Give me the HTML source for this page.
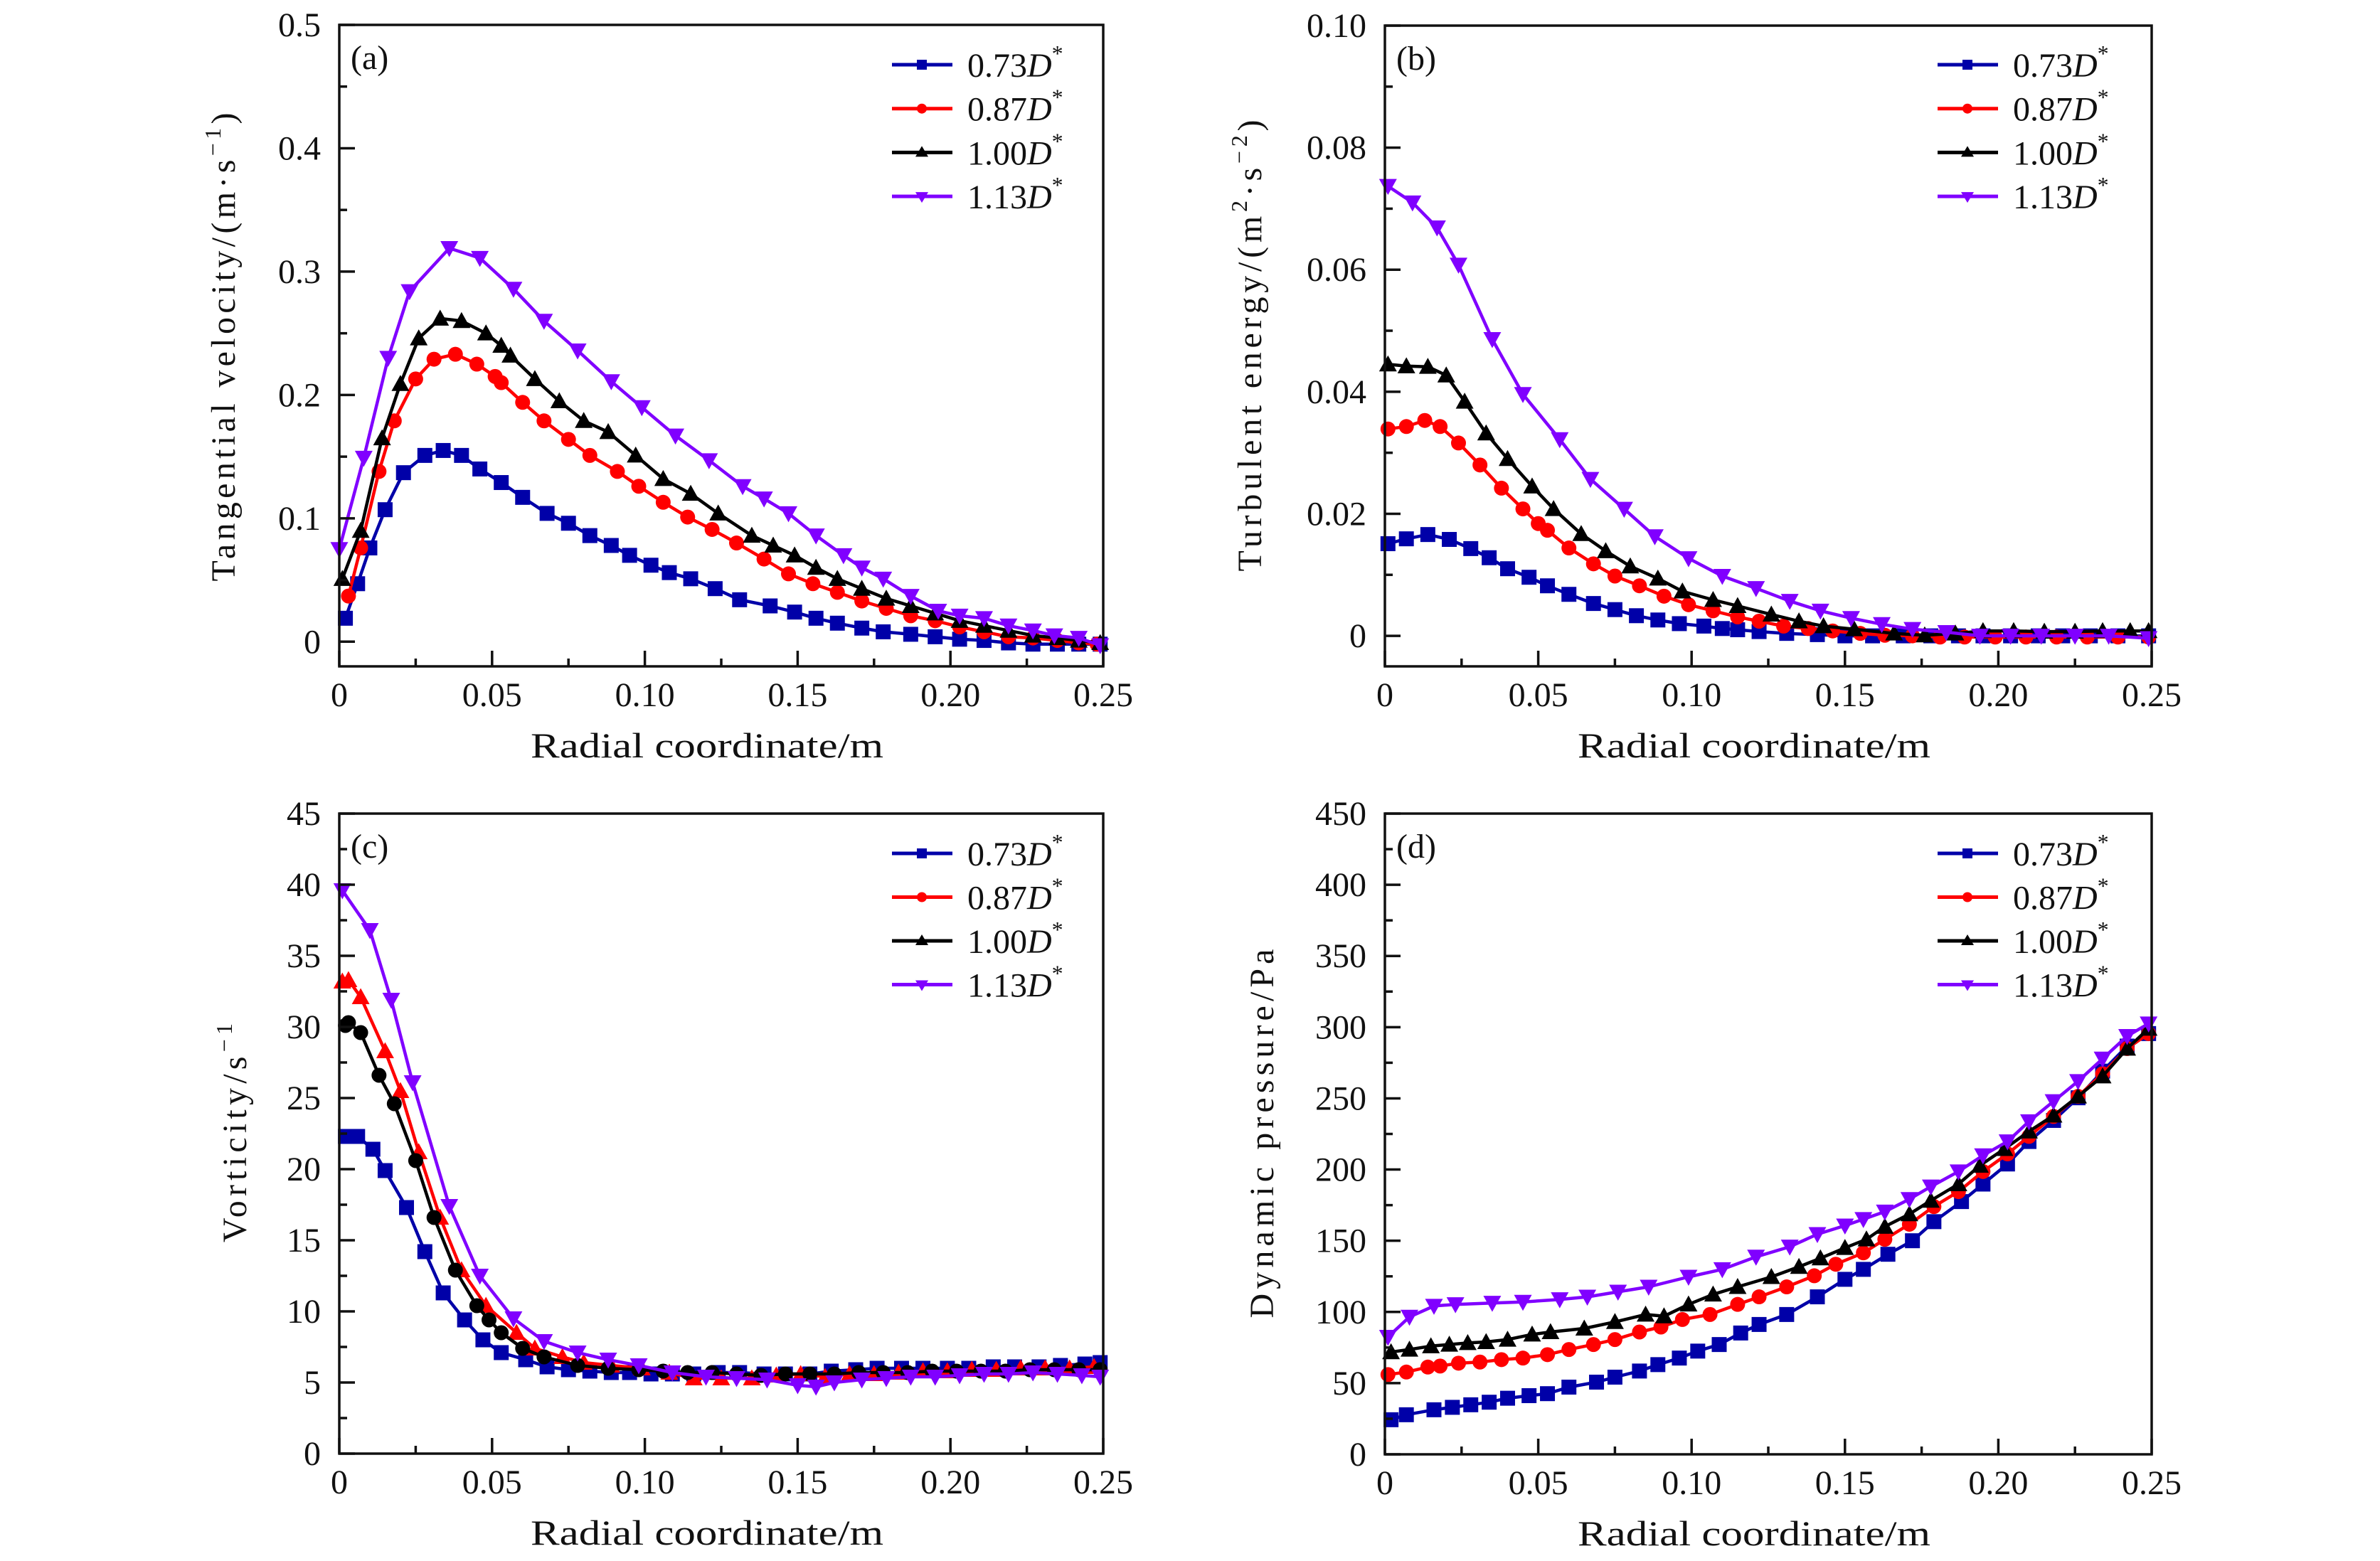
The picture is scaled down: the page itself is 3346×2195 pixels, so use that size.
<!DOCTYPE html>
<html><head><meta charset="utf-8">
<style>
html,body{margin:0;padding:0;background:#fff;}
svg{display:block;font-family:"Liberation Serif",serif;}
</style></head>
<body>
<svg id="fig" width="3346" height="2195" viewBox="0 0 3346 2195" xmlns="http://www.w3.org/2000/svg">
<rect width="3346" height="2195" fill="#fff"/>
</svg>
<script>
// ---------- shared axis data ----------
const xTickValues = [0, 0.05, 0.10, 0.15, 0.20, 0.25];
const xTickLabels = ["0", "0.05", "0.10", "0.15", "0.20", "0.25"];
const seriesNames = ["0.73", "0.87", "1.00", "1.13"];

// ---------- panel (a) tangential velocity ----------
const aTicks = [0, 0.1, 0.2, 0.3, 0.4, 0.5];
const aTickLabels = ["0", "0.1", "0.2", "0.3", "0.4", "0.5"];
const aX073 = [.002,.006,.010,.015,.021,.028,.034,.040,.046,.053,.060,.068,.075,.082,.089,.095,.102,.108,.115,.123,.131,.141,.149,.156,.163,.171,.178,.187,.195,.203,.211,.219,.227,.235,.242,.249];
const aY073 = [.019,.047,.076,.107,.137,.151,.155,.151,.140,.129,.117,.104,.096,.086,.078,.070,.062,.056,.051,.043,.034,.029,.024,.019,.015,.011,.008,.006,.004,.002,.001,-.001,-.002,-.002,-.002,-.002];
const aX087 = [.003,.007,.013,.018,.025,.031,.038,.045,.051,.053,.060,.067,.075,.082,.091,.098,.106,.114,.122,.130,.139,.147,.155,.163,.171,.179,.187,.195,.203,.211,.219,.227,.235,.242,.248];
const aY087 = [.037,.076,.138,.179,.213,.229,.233,.225,.215,.210,.194,.179,.164,.151,.138,.126,.113,.101,.091,.080,.067,.055,.047,.040,.033,.027,.021,.017,.012,.008,.004,.003,.001,-.001,-.002];
const aX100 = [.001,.007,.014,.020,.026,.033,.040,.048,.053,.056,.064,.072,.080,.088,.097,.106,.115,.124,.135,.142,.149,.156,.163,.171,.179,.187,.195,.203,.211,.219,.227,.235,.242,.249];
const aY100 = [.051,.090,.165,.209,.246,.262,.260,.250,.240,.232,.213,.195,.179,.170,.151,.132,.120,.104,.086,.078,.070,.060,.051,.043,.035,.029,.023,.017,.013,.009,.005,.003,.001,-.001];
const aX113 = [.000,.008,.016,.023,.036,.046,.057,.067,.078,.089,.099,.110,.121,.132,.139,.147,.156,.165,.171,.178,.187,.196,.203,.211,.219,.227,.234,.242,.249];
const aY113 = [.075,.149,.230,.284,.319,.311,.286,.260,.236,.211,.190,.167,.147,.126,.116,.104,.086,.070,.060,.051,.037,.025,.021,.019,.013,.009,.005,.003,-.003];

// ---------- panel (b) turbulent energy ----------
const bTicks = [0, 0.02, 0.04, 0.06, 0.08, 0.10];
const bTickLabels = ["0", "0.02", "0.04", "0.06", "0.08", "0.10"];
const bX073 = [.001,.007,.014,.021,.028,.034,.040,.047,.053,.060,.068,.075,.082,.089,.096,.104,.110,.115,.122,.131,.141,.150,.159,.169,.178,.187,.195,.204,.213,.221,.230,.239,.249];
const bY073 = [.0151,.0159,.0166,.0158,.0143,.0128,.0110,.0096,.0082,.0068,.0053,.0043,.0033,.0026,.0020,.0016,.0012,.0010,.0007,.0004,.0002,0,0,0,0,0,0,0,0,0,0,0,0];
const bX087 = [.001,.007,.013,.018,.024,.031,.038,.045,.050,.053,.060,.068,.075,.083,.091,.099,.107,.115,.122,.130,.138,.146,.155,.163,.172,.181,.189,.199,.209,.219,.229,.239,.249];
const bY087 = [.0339,.0343,.0353,.0343,.0316,.0280,.0242,.0208,.0184,.0173,.0144,.0118,.0098,.0082,.0065,.0051,.0041,.0031,.0024,.0016,.0012,.0008,.0004,.0001,0,-.0002,-.0002,-.0002,-.0002,-.0002,-.0002,-.0002,-.0002];
const bX100 = [.001,.007,.014,.020,.026,.033,.040,.048,.055,.064,.072,.080,.089,.097,.107,.115,.126,.135,.143,.153,.166,.176,.186,.195,.205,.215,.225,.234,.243,.249];
const bY100 = [.0445,.0442,.0441,.0427,.0384,.0332,.0290,.0245,.0208,.0167,.0139,.0114,.0094,.0073,.0059,.0049,.0035,.0024,.0016,.0011,.0004,.0001,.0004,.0008,.0008,.0007,.0007,.0008,.0008,.0008];
const bX113 = [.001,.009,.017,.024,.035,.045,.057,.067,.078,.088,.099,.110,.121,.132,.142,.152,.162,.172,.183,.194,.204,.214,.225,.236,.249];
const bY113 = [.0737,.0710,.0669,.0608,.0486,.0396,.0322,.0257,.0208,.0163,.0127,.0098,.0078,.0057,.0041,.0029,.0019,.0011,.0006,0,0,0,0,0,-.0004];

// ---------- panel (c) vorticity ----------
const cTicks = [0, 5, 10, 15, 20, 25, 30, 35, 40, 45];
const cTickLabels = ["0", "5", "10", "15", "20", "25", "30", "35", "40", "45"];
const cX073 = [.002,.006,.011,.015,.022,.028,.034,.041,.047,.053,.061,.068,.075,.082,.089,.095,.102,.109,.116,.124,.131,.139,.146,.154,.161,.169,.176,.184,.191,.199,.206,.214,.221,.229,.236,.244,.249];
const cY073 = [22.3,22.3,21.4,19.9,17.3,14.2,11.3,9.4,8.0,7.1,6.6,6.1,5.9,5.8,5.7,5.7,5.6,5.6,5.6,5.7,5.7,5.6,5.6,5.6,5.8,5.9,6.0,6.0,6.0,6.0,6.0,6.1,6.1,6.1,6.2,6.3,6.4];
const cX087 = [.001,.003,.007,.015,.020,.026,.033,.040,.048,.058,.064,.073,.080,.089,.099,.108,.116,.125,.135,.143,.151,.159,.167,.175,.183,.191,.199,.207,.215,.223,.231,.239,.247];
const cY087 = [33.2,33.3,32.1,28.3,25.5,21.2,16.6,12.9,10.4,8.5,7.4,6.8,6.4,6.2,6.0,5.7,5.3,5.3,5.3,5.5,5.6,5.4,5.6,5.6,5.7,5.8,5.8,5.9,5.9,6.0,6.0,6.0,6.1];
const cX100 = [.002,.003,.007,.013,.018,.025,.031,.038,.045,.049,.053,.060,.067,.078,.088,.098,.106,.114,.122,.130,.138,.146,.154,.162,.170,.178,.186,.194,.202,.210,.218,.226,.234,.242,.249];
const cY100 = [30.1,30.3,29.6,26.6,24.6,20.6,16.6,12.9,10.4,9.4,8.5,7.4,6.8,6.2,6.0,5.9,5.8,5.7,5.7,5.6,5.5,5.6,5.6,5.6,5.7,5.7,5.7,5.8,5.8,5.8,5.8,5.9,5.9,5.9,5.9];
const cX113 = [.001,.010,.017,.024,.036,.046,.057,.067,.078,.088,.098,.109,.120,.130,.140,.150,.156,.162,.171,.179,.187,.195,.203,.211,.219,.227,.235,.243,.249];
const cY113 = [39.6,36.8,31.9,26.1,17.4,12.5,9.5,7.9,7.1,6.6,6.2,5.7,5.4,5.3,5.2,4.8,4.7,5.0,5.2,5.3,5.4,5.4,5.5,5.6,5.6,5.7,5.6,5.5,5.4];

// ---------- panel (d) dynamic pressure ----------
const dTicks = [0, 50, 100, 150, 200, 250, 300, 350, 400, 450];
const dTickLabels = ["0", "50", "100", "150", "200", "250", "300", "350", "400", "450"];
const dX073 = [.002,.007,.016,.022,.028,.034,.040,.047,.053,.060,.069,.075,.083,.089,.096,.102,.109,.116,.122,.131,.141,.150,.156,.164,.172,.179,.188,.195,.203,.210,.218,.226,.234,.242,.249];
const dY073 = [24.3,27.8,31.3,33,34.8,36.6,39.4,41.2,42.6,47.2,50.7,54.2,58.5,63,67.6,72.5,77.1,85.2,91.2,98.2,110.6,122.9,129.9,140.5,150,163.4,177.5,189.8,203.9,219.7,234.5,250.4,269.1,286.7,295.5];
const dX087 = [.001,.007,.014,.018,.024,.031,.038,.045,.053,.060,.068,.075,.083,.090,.097,.106,.115,.122,.131,.140,.147,.156,.163,.171,.179,.187,.195,.203,.210,.218,.226,.234,.242,.249];
const dY087 = [56,57.8,61.3,62,64,64.8,66.5,67.6,70,73.6,77.1,80.6,85.9,89.4,94.7,98.2,105.3,110.6,117.6,125.4,133.5,141.5,151,161.6,174,184.5,198.6,211,223.3,237.3,251.4,267.3,285,295.5];
const dX100 = [.002,.008,.015,.021,.027,.033,.040,.048,.054,.065,.075,.085,.091,.099,.107,.115,.126,.135,.142,.150,.157,.163,.171,.178,.187,.194,.202,.210,.218,.226,.234,.242,.249];
const dY100 = [71.8,73.6,76,77.1,78.2,78.9,80.6,84.2,85.9,88.4,93,98.2,97,105.3,112.3,117.6,124.6,131.7,137.7,145,151,159.9,168.7,178.2,189.8,202.8,214.5,226.8,238,251.4,265.5,285,299];
const dX113 = [.001,.008,.016,.023,.035,.045,.057,.066,.076,.086,.099,.110,.121,.132,.141,.150,.156,.163,.171,.178,.187,.195,.203,.210,.218,.226,.234,.242,.249];
const dY113 = [82.4,96.5,104.2,105.3,106.3,107,108.8,110.6,114.1,117.6,124.6,129.9,138.7,145.8,154.6,160.6,165.1,170.4,179.2,188,198.6,209.9,219.7,233.8,247.9,262,277.8,293.7,302.5];

const NS = "http://www.w3.org/2000/svg";
const svg = document.getElementById("fig");
const COLORS = ["#0000a8", "#ff0000", "#000000", "#8000ff"];

function mk(tag, attrs, parent) {
  const e = document.createElementNS(NS, tag);
  for (const k in attrs) e.setAttribute(k, attrs[k]);
  parent.appendChild(e);
  return e;
}

function marker(g, shape, cx, cy, color) {
  let m;
  if (shape === "square") {
    m = mk("rect", {x: cx - 10.5, y: cy - 10.5, width: 21, height: 21, fill: color}, g);
  } else if (shape === "circle") {
    m = mk("circle", {cx: cx, cy: cy, r: 10.5, fill: color}, g);
  } else if (shape === "up") {
    m = mk("polygon", {points: `${cx},${cy - 12.5} ${cx - 12.5},${cy + 10} ${cx + 12.5},${cy + 10}`, fill: color}, g);
  } else {
    m = mk("polygon", {points: `${cx},${cy + 12.5} ${cx - 12.5},${cy - 10} ${cx + 12.5},${cy - 10}`, fill: color}, g);
  }
  
  
  return m;
}

function drawPanel(p) {
  const g = mk("g", {}, svg);
  
  
  const xs = v => p.L + (v - 0) / 0.25 * (p.R - p.L);
  const ys = v => p.B - (v - p.ymin) / (p.ymax - p.ymin) * (p.B - p.T);

  p.series.forEach((s, i) => {
    const sg = mk("g", {}, g);
    
    
    const pts = s.x.map((xv, j) => xs(xv).toFixed(1) + "," + ys(s.y[j]).toFixed(1)).join(" ");
    const line = mk("polyline", {points: pts, fill: "none", stroke: COLORS[i], "stroke-width": 4.5, "stroke-linejoin": "round"}, sg);
    
    
    s.x.forEach((xv, j) => marker(sg, s.shape, xs(xv), ys(s.y[j]), COLORS[i]));
  });

  const fr = mk("rect", {x: p.L, y: p.T, width: p.R - p.L, height: p.B - p.T, fill: "none", stroke: "#111", "stroke-width": 3.5}, g);
  
  

  xTickValues.forEach((v, i) => {
    const x = xs(v);
    const t = mk("line", {x1: x, x2: x, y1: p.B, y2: p.B - 22, stroke: "#111", "stroke-width": 3.5}, g);
    
    
    const tx = mk("text", {x: x, y: p.B + 56, "font-size": 48, "text-anchor": "middle", fill: "#111"}, g);
    tx.textContent = xTickLabels[i];
    
    
    if (i < xTickValues.length - 1) {
      const xm = xs((v + xTickValues[i + 1]) / 2);
      const tm = mk("line", {x1: xm, x2: xm, y1: p.B, y2: p.B - 11, stroke: "#111", "stroke-width": 3.5}, g);
      
      
    }
  });
  p.ticks.forEach((v, i) => {
    const y = ys(v);
    const t = mk("line", {x1: p.L, x2: p.L + 22, y1: y, y2: y, stroke: "#111", "stroke-width": 3.5}, g);
    
    
    const tx = mk("text", {x: p.L - 26, y: y + 16, "font-size": 48, "text-anchor": "end", fill: "#111"}, g);
    tx.textContent = p.tickLabels[i];
    
    
    if (i < p.ticks.length - 1) {
      const ym = ys((v + p.ticks[i + 1]) / 2);
      const tm = mk("line", {x1: p.L, x2: p.L + 11, y1: ym, y2: ym, stroke: "#111", "stroke-width": 3.5}, g);
      
      
    }
  });

  const xt = mk("text", {x: (p.L + p.R) / 2 - 20, y: p.B + 128, "font-size": 50, "text-anchor": "middle", fill: "#111", textLength: 496, lengthAdjust: "spacingAndGlyphs"}, g);
  xt.textContent = "Radial coordinate/m";
  
  

  const yt = mk("text", {x: 0, y: 0, "font-size": 48, "text-anchor": "middle", fill: "#111", transform: `translate(${p.ytx},${p.yty}) rotate(-90)`, textLength: p.ytLen, lengthAdjust: "spacing"}, g);
  yt.innerHTML = p.ytitle;
  
  

  const pl = mk("text", {x: p.L + 16, y: p.T + 62, "font-size": 48, fill: "#111"}, g);
  pl.textContent = "(" + p.id + ")";
  
  

  const lg = mk("g", {}, g);
  
  
  const shapes = ["square", "circle", "up", "down"];
  seriesNames.forEach((n, i) => {
    const ry = p.legY + i * p.legDy;
    const eg = mk("g", {}, lg);
    
    
    const ll = mk("line", {x1: p.legX, x2: p.legX + 85, y1: ry, y2: ry, stroke: COLORS[i], "stroke-width": 5}, eg);
    
    
    const sq = shapes[i];
    const lx = p.legX + 42;
    let m;
    if (sq === "square") m = mk("rect", {x: lx - 7, y: ry - 7, width: 14, height: 14, fill: COLORS[i]}, eg);
    else if (sq === "circle") m = mk("circle", {cx: lx, cy: ry, r: 7, fill: COLORS[i]}, eg);
    else if (sq === "up") m = mk("polygon", {points: `${lx},${ry - 9} ${lx - 9},${ry + 6} ${lx + 9},${ry + 6}`, fill: COLORS[i]}, eg);
    else m = mk("polygon", {points: `${lx},${ry + 9} ${lx - 9},${ry - 6} ${lx + 9},${ry - 6}`, fill: COLORS[i]}, eg);
    
    
    const tx = mk("text", {x: p.legX + 106, y: ry + 17, "font-size": 48, fill: "#111"}, eg);
    tx.innerHTML = n + '<tspan font-style="italic">D</tspan><tspan font-size="32" dy="-22">*</tspan>';
    
    
  });
}

drawPanel({id: "a", L: 477, R: 1551, T: 35, B: 937, ymin: -0.02, ymax: 0.5,
  ticks: aTicks, tickLabels: aTickLabels,
  ytitle: 'Tangential velocity/(m·s<tspan font-size="32" dy="-20">−1</tspan><tspan dy="20">)</tspan>',
  ytx: 330, yty: 488, ytLen: 659, legX: 1254, legY: 91, legDy: 61.7,
  series: [{x: aX073, y: aY073, shape: "square"}, {x: aX087, y: aY087, shape: "circle"}, {x: aX100, y: aY100, shape: "up"}, {x: aX113, y: aY113, shape: "down"}]});

drawPanel({id: "b", L: 1947, R: 3025, T: 36, B: 937, ymin: -0.005, ymax: 0.10,
  ticks: bTicks, tickLabels: bTickLabels,
  ytitle: 'Turbulent energy/(m<tspan font-size="32" dy="-20">2</tspan><tspan dy="20">·s</tspan><tspan font-size="32" dy="-20">−2</tspan><tspan dy="20">)</tspan>',
  ytx: 1773, yty: 486, ytLen: 635, legX: 2724, legY: 91, legDy: 61.7,
  series: [{x: bX073, y: bY073, shape: "square"}, {x: bX087, y: bY087, shape: "circle"}, {x: bX100, y: bY100, shape: "up"}, {x: bX113, y: bY113, shape: "down"}]});

drawPanel({id: "c", L: 477, R: 1551, T: 1144, B: 2044, ymin: 0, ymax: 45,
  ticks: cTicks, tickLabels: cTickLabels,
  ytitle: 'Vorticity/s<tspan font-size="32" dy="-20">−1</tspan>',
  ytx: 346, yty: 1593, ytLen: 308, legX: 1254, legY: 1200, legDy: 61.5,
  series: [{x: cX073, y: cY073, shape: "square"}, {x: cX087, y: cY087, shape: "up"}, {x: cX100, y: cY100, shape: "circle"}, {x: cX113, y: cY113, shape: "down"}]});

drawPanel({id: "d", L: 1947, R: 3025, T: 1144, B: 2045, ymin: 0, ymax: 450,
  ticks: dTicks, tickLabels: dTickLabels,
  ytitle: 'Dynamic pressure/Pa',
  ytx: 1790, yty: 1594, ytLen: 519, legX: 2724, legY: 1200, legDy: 61.5,
  series: [{x: dX073, y: dY073, shape: "square"}, {x: dX087, y: dY087, shape: "circle"}, {x: dX100, y: dY100, shape: "up"}, {x: dX113, y: dY113, shape: "down"}]});
</script>
</body></html>
